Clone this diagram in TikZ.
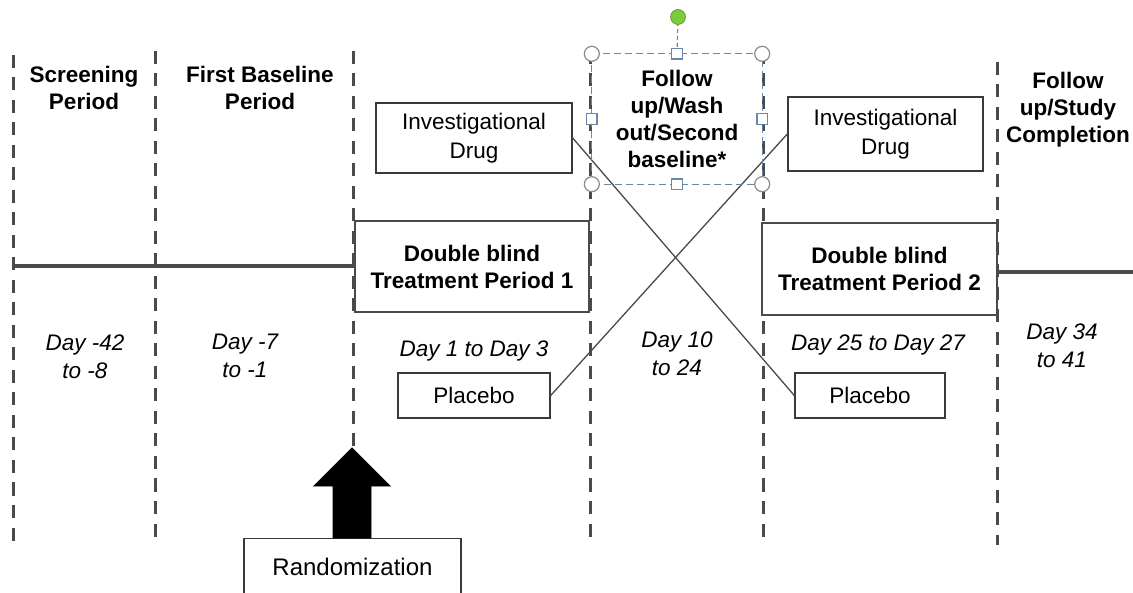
\documentclass[tikz,border=0pt]{standalone}
\usepackage{fontspec}
\setmainfont{Liberation Sans}
\definecolor{lineg}{HTML}{4A4A4A}
\definecolor{boxg}{HTML}{3A3A3A}
\definecolor{selb}{HTML}{6A86A8}
\definecolor{handleg}{HTML}{8A8A8A}
\definecolor{greenh}{HTML}{7CCB3A}
\tikzset{
  vdash/.style={draw=lineg, line width=3pt, dash pattern=on 13pt off 9.5pt},
  hline/.style={draw=lineg, line width=3.5pt},
  txt/.style={align=center, font=\fontsize{22.5}{27}\selectfont, inner sep=0pt},
  btxt/.style={txt, font=\fontsize{22.5}{27}\selectfont\bfseries},
  itxt/.style={txt, font=\fontsize{22.5}{28}\selectfont\itshape},
  rbox/.style={draw=boxg, line width=1.4pt, fill=white, align=center, inner sep=0pt, font=\fontsize{22.5}{29}\selectfont},
  tbox/.style={draw=lineg, line width=1.5pt, fill=white, align=center, inner sep=0pt, font=\fontsize{22.5}{27}\selectfont\bfseries},
  cross/.style={draw=lineg, line width=1.3pt},
  corner/.style={circle, draw=handleg, fill=white, line width=1.2pt, minimum size=15pt, inner sep=0pt},
  side/.style={rectangle, draw=selb, fill=white, line width=1.2pt, minimum size=10.5pt, inner sep=0pt},
}
\begin{document}
\begin{tikzpicture}[x=1pt, y=-1pt]
\useasboundingbox (0,0) rectangle (1133,593);
\begin{scope}
\clip (0,0) rectangle (1133,593);
% horizontal timeline
\draw[hline] (13,266) -- (355,266);
\draw[hline] (997,272) -- (1133,272);
% dashed vertical lines
\draw[vdash] (13,55) -- (13,542);
\draw[vdash] (155,51) -- (155,542);
\draw[vdash] (353,51) -- (353,446);
\draw[vdash] (590,51) -- (590,540);
\draw[vdash] (763,51) -- (763,541);
\draw[vdash] (997,62) -- (997,545);
% treatment boxes
\node[tbox, minimum width=234pt, minimum height=91pt] (t1) at (472,266.5) {Double blind\\Treatment Period 1};
\node[tbox, minimum width=235pt, minimum height=92pt] (t2) at (879.5,269) {Double blind\\Treatment Period 2};
% drug / placebo boxes
\node[rbox, minimum width=196pt, minimum height=70pt] (inv1) at (474,138) {Investigational\\Drug};
\node[rbox, minimum width=195pt, minimum height=74pt] (inv2) at (885.5,134) {Investigational\\Drug};
\node[rbox, minimum width=152pt, minimum height=45pt] (pl1) at (474,395.5) {Placebo};
\node[rbox, minimum width=150pt, minimum height=45pt] (pl2) at (870,395.5) {Placebo};
\draw[cross] (inv1.east) -- (pl2.west);
\draw[cross] (pl1.east) -- (inv2.west);
% period titles
\node[btxt] (scr) at (84,88) {Screening\\Period};
\node[btxt] (fb) at (260,88) {First Baseline\\Period};
\node[btxt] (fu2) at (1068,110) {Follow\\up/Study\\Completion};
% follow up selected text box
\node[btxt, minimum width=170pt, minimum height=130pt] (fu) at (677,119) {Follow\\up/Wash\\out/Second\\baseline*};
\draw[selb, line width=1.2pt, dash pattern=on 7pt off 4pt] (fu.north west) rectangle (fu.south east);
\coordinate (rot) at (678,17);
\draw[selb, line width=1.2pt, dash pattern=on 4pt off 3pt] (fu.north) -- (rot);
\node[circle, fill=greenh, draw=greenh!70!black, line width=0.6pt, minimum size=15pt, inner sep=0pt] (rh) at (rot) {};
\foreach \a in {north west, north east, south west, south east} \node[corner] at (fu.\a) {};
\foreach \a in {north, south, west, east} \node[side] at (fu.\a) {};
% day labels
\node[itxt] (d1) at (85,357) {Day -42\\to -8};
\node[itxt] (d2) at (245,356) {Day -7\\to -1};
\node[itxt] (d3) at (474,351) {Day 1 to Day 3};
\node[itxt] (d4) at (677,354) {Day 10\\to 24};
\node[itxt] (d5) at (878,345) {Day 25 to Day 27};
\node[itxt] (d6) at (1062,346) {Day 34\\to 41};
% randomization
\node[draw=boxg, line width=1.4pt, fill=white, minimum width=217pt, minimum height=70pt, inner sep=0pt, anchor=north] (rand) at (352.5,538) {};
\node[txt, font=\fontsize{24}{28}\selectfont] (randt) at (352.5,567) {Randomization};
\draw[fill=black, draw=black, line width=0.8pt, line join=miter]
  (333,538) -- (333,486) -- (314,486) -- (352,448) -- (390,486) -- (371,486) -- (371,538) -- cycle;
\end{scope}
\end{tikzpicture}
\end{document}
